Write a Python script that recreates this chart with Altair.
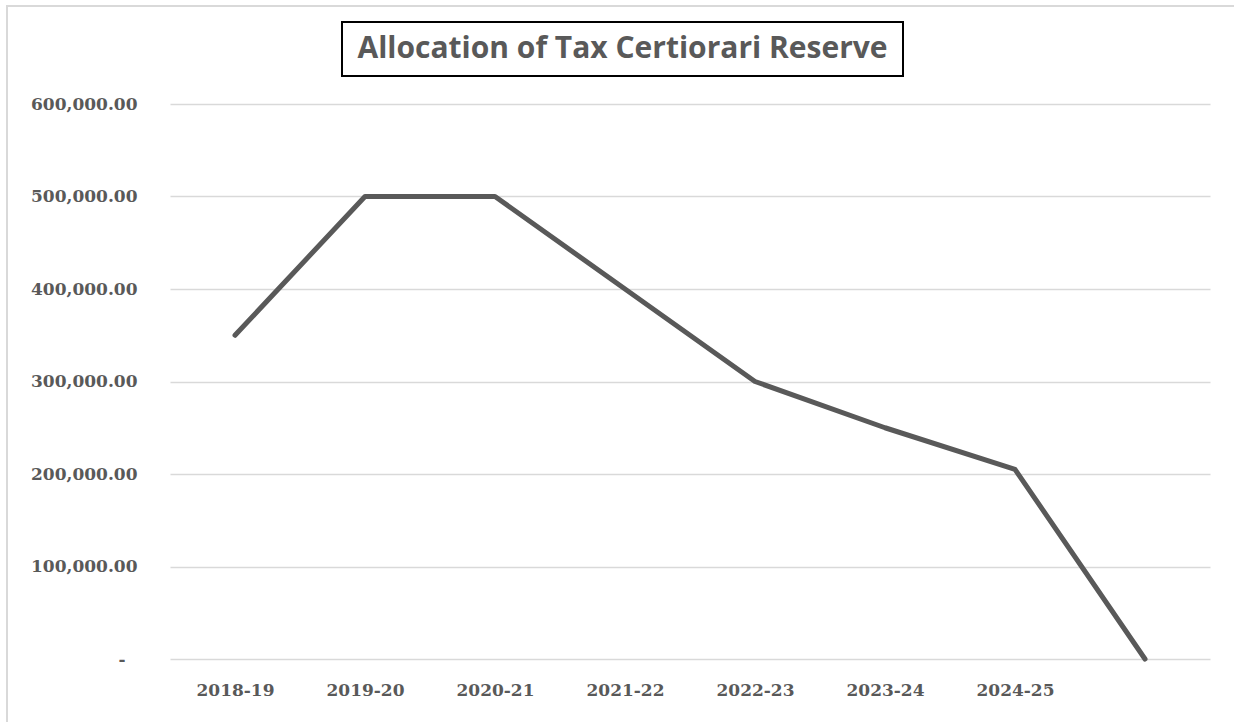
import altair as alt
import pandas as pd

# Data
years = ["2018-19", "2019-20", "2020-21", "2021-22", "2022-23", "2023-24", "2024-25", " "]
reserve = [350000, 500000, 500000, 400000, 300000, 250000, 205000, 0]
title_text = "Allocation of Tax Certiorari Reserve"

df = pd.DataFrame({"year": years, "reserve": reserve})
one = pd.DataFrame({"k": [0]})

W, H = 1040, 555
grey = "#595959"

line = alt.Chart(df).mark_line(
    color=grey, strokeWidth=5, strokeCap="round", strokeJoin="round"
).encode(
    x=alt.X("year:N", sort=years, title=None,
            scale=alt.Scale(padding=0.5),
            axis=alt.Axis(labelAngle=0, ticks=False, domain=False, grid=False,
                          labelFont="DejaVu Serif", labelFontWeight="bold",
                          labelFontSize=17, labelColor=grey, labelPadding=23)),
    y=alt.Y("reserve:Q", title=None,
            scale=alt.Scale(domain=[0, 600000], nice=False),
            axis=alt.Axis(values=[0, 100000, 200000, 300000, 400000, 500000, 600000],
                          ticks=False, domain=False, grid=True,
                          gridColor="#d9d9d9", gridWidth=1.5,
                          labelFont="DejaVu Serif", labelFontWeight="bold",
                          labelFontSize=17, labelColor=grey,
                          labelPadding=alt.ExprRef("datum.value == 0 ? 45 : 33"),
                          labelExpr="datum.value == 0 ? '-' : format(datum.value, ',.2f')")),
)

border = alt.Chart(one).mark_rect(fill=None, stroke="#d9d9d9", strokeWidth=2).encode(
    x=alt.value(-163), x2=alt.value(1300), y=alt.value(-98), y2=alt.value(800)
)

title_box = alt.Chart(one).mark_rect(fill="white", stroke="black", strokeWidth=2).encode(
    x=alt.value(172), x2=alt.value(733), y=alt.value(-82), y2=alt.value(-28)
)

title = alt.Chart(one).mark_text(
    font="Open Sans", fontWeight="bold", fontSize=30, color=grey,
    align="center", baseline="middle"
).encode(
    x=alt.value(452.5), y=alt.value(-55), text=alt.value(title_text)
)

chart = alt.layer(border, title_box, title, line).properties(
    width=W, height=H,
    autosize=alt.AutoSizeParams(type="none"),
    padding={"left": 170, "top": 104, "right": 24, "bottom": 63},
    background="white",
).configure_view(stroke=None)

chart.save("out.html", embed_options={"renderer": "svg", "actions": False})
